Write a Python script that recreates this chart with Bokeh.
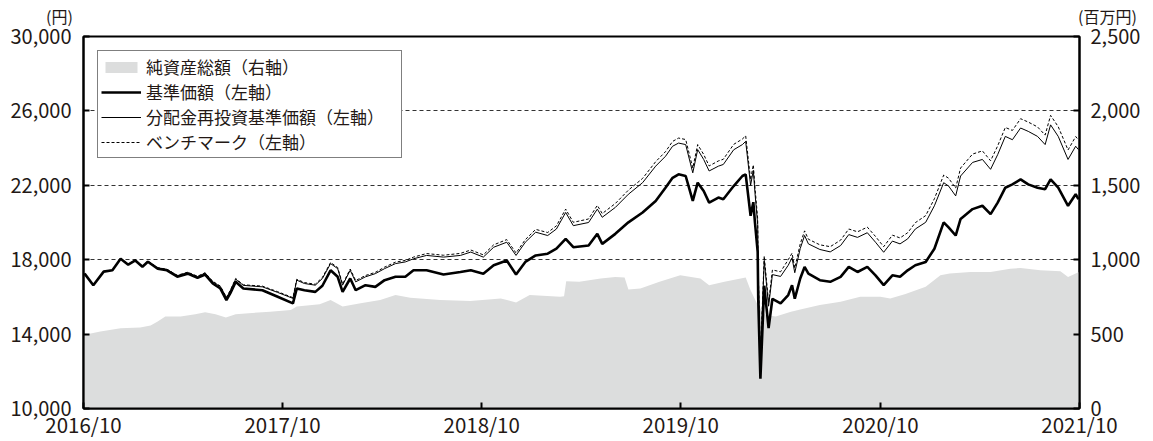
import pandas as pd
from bokeh.plotting import figure
from bokeh.models import (Range1d, LinearAxis, FixedTicker, NumeralTickFormatter,
                          DatetimeTickFormatter, Legend, LegendItem, ColumnDataSource)
from bokeh.embed import file_html
from bokeh.resources import INLINE

# ---------------- data ----------------
price_dates = [
    "2016-10-03", "2016-10-19", "2016-11-07", "2016-11-23", "2016-12-08", "2016-12-22",
    "2017-01-04", "2017-01-17", "2017-01-27", "2017-02-14", "2017-03-03", "2017-03-22",
    "2017-04-10", "2017-04-28", "2017-05-12", "2017-05-26", "2017-06-09", "2017-06-20",
    "2017-06-27", "2017-07-07", "2017-07-21", "2017-08-25", "2017-09-22", "2017-10-20",
    "2017-10-27", "2017-11-10", "2017-11-30", "2017-12-13", "2017-12-28", "2018-01-10",
    "2018-01-19", "2018-02-02", "2018-02-12", "2018-03-02", "2018-03-20", "2018-04-06",
    "2018-04-26", "2018-05-14", "2018-05-29", "2018-06-22", "2018-07-23", "2018-08-23",
    "2018-09-11", "2018-10-04", "2018-10-23", "2018-11-16", "2018-12-03", "2018-12-20",
    "2019-01-08", "2019-01-30", "2019-02-15", "2019-03-04", "2019-03-18", "2019-04-15",
    "2019-05-01", "2019-05-10", "2019-06-03", "2019-06-27", "2019-07-23", "2019-08-16",
    "2019-09-03", "2019-09-16", "2019-09-27", "2019-10-10", "2019-10-23", "2019-11-01",
    "2019-11-12", "2019-11-22", "2019-12-09", "2019-12-18", "2020-01-06", "2020-01-22",
    "2020-01-28", "2020-02-06", "2020-02-11", "2020-02-14", "2020-02-19", "2020-02-20",
    "2020-02-24", "2020-03-02", "2020-03-10", "2020-03-17", "2020-04-01", "2020-04-15",
    "2020-04-22", "2020-04-27", "2020-05-07", "2020-05-15", "2020-05-22", "2020-06-12",
    "2020-07-01", "2020-07-20", "2020-08-04", "2020-08-20", "2020-09-07", "2020-09-22",
    "2020-10-07", "2020-10-23", "2020-11-06", "2020-11-20", "2020-12-04", "2020-12-23",
    "2021-01-08", "2021-01-25", "2021-02-03", "2021-02-16", "2021-02-25", "2021-03-19",
    "2021-04-06", "2021-04-21", "2021-05-04", "2021-05-18", "2021-05-31", "2021-06-15",
    "2021-06-29", "2021-07-16", "2021-07-30", "2021-08-09", "2021-08-23", "2021-09-10",
    "2021-09-24", "2021-09-29",
]

# 基準価額 (left axis, yen)
nav = [
    17250, 16630, 17360, 17430, 18050, 17730, 17960, 17620, 17890, 17520, 17430, 17090,
    17250, 17020, 17200, 16720, 16450, 15830, 16190, 16810, 16450, 16360, 16010, 15650,
    16450, 16360, 16270, 16600, 17430, 17080, 16270, 16990, 16360, 16630, 16540, 16900,
    17080, 17080, 17430, 17430, 17200, 17340, 17430, 17250, 17700, 17960, 17200, 17880,
    18230, 18320, 18590, 19120, 18670, 18760, 19390, 18850, 19390, 20010, 20540, 21160,
    21870, 22400, 22590, 22500, 21160, 22140, 21690, 21070, 21340, 21250, 21960, 22500,
    22590, 20360, 21090, 20000, 18420, 15920, 11600, 16600, 14320, 15900, 15650, 16100,
    16630, 15900, 16990, 17610, 17250, 16900, 16810, 17080, 17610, 17340, 17610, 17160,
    16630, 17160, 17080, 17430, 17700, 17880, 18590, 20010, 19740, 19300, 20190, 20720,
    20900, 20450, 21070, 21870, 22050, 22320, 22050, 21870, 21790, 22320, 21870, 20900,
    21520, 21250,
]

# 分配金再投資基準価額 (left axis, yen)
nav_reinvested = [
    17250, 16630, 17360, 17440, 18060, 17740, 17970, 17640, 17910, 17550, 17470, 17140,
    17310, 17090, 17280, 16810, 16550, 15950, 16320, 16950, 16620, 16540, 16240, 15920,
    16900, 16720, 16630, 16990, 17790, 17520, 16630, 17430, 16810, 17080, 17250, 17520,
    17790, 17880, 18050, 18230, 18140, 18230, 18410, 18140, 18670, 18940, 18230, 18940,
    19480, 19300, 19650, 20540, 19830, 20000, 20720, 20280, 20810, 21520, 22140, 23030,
    23560, 24100, 24270, 24190, 22670, 23920, 23390, 22770, 23030, 23120, 23910, 24190,
    24360, 22000, 22800, 21600, 19900, 17200, 12550, 17950, 15500, 17200, 17100, 17700,
    18100, 17300, 18600, 19300, 18850, 18550, 18420, 18760, 19350, 19200, 19450, 18940,
    18400, 19000, 18850, 19120, 19650, 20010, 20900, 22140, 21960, 21430, 22500, 23230,
    23390, 22860, 23650, 24630, 24450, 25080, 24900, 24630, 24190, 25250, 24630, 23390,
    24100, 23920,
]

# ベンチマーク (left axis, yen)
benchmark = [
    17250, 16640, 17370, 17450, 18070, 17760, 17990, 17660, 17930, 17570, 17490, 17160,
    17330, 17110, 17300, 16840, 16580, 15980, 16350, 16990, 16650, 16580, 16280, 15960,
    16950, 16770, 16680, 17050, 17850, 17580, 16690, 17500, 16880, 17150, 17320, 17600,
    17870, 17960, 18140, 18330, 18240, 18340, 18520, 18260, 18800, 19080, 18360, 19080,
    19630, 19460, 19820, 20720, 20010, 20190, 20920, 20480, 21020, 21740, 22370, 23270,
    23810, 24360, 24540, 24460, 22930, 24190, 23660, 23040, 23310, 23400, 24200, 24490,
    24660, 22300, 23100, 21900, 20200, 17450, 12750, 18200, 15700, 17450, 17350, 18000,
    18350, 17550, 18850, 19550, 19100, 18800, 18700, 19050, 19650, 19500, 19750, 19250,
    18700, 19320, 19170, 19450, 19990, 20370, 21280, 22550, 22380, 21850, 22930, 23680,
    23850, 23320, 24120, 25110, 24950, 25580, 25400, 25140, 24700, 25760, 25150, 23900,
    24620, 24450,
]

asset_dates = [
    "2016-10-03", "2016-11-01", "2016-12-08", "2017-01-13", "2017-02-01", "2017-02-14",
    "2017-02-28", "2017-03-28", "2017-04-24", "2017-05-12", "2017-05-31", "2017-06-19",
    "2017-07-07", "2017-07-31", "2017-09-08", "2017-10-16", "2017-10-27", "2017-12-08",
    "2017-12-28", "2018-01-19", "2018-02-21", "2018-03-29", "2018-04-26", "2018-05-23",
    "2018-07-17", "2018-09-10", "2018-11-05", "2018-12-03", "2018-12-28", "2019-02-22",
    "2019-03-01", "2019-03-05", "2019-03-29", "2019-05-07", "2019-06-03", "2019-06-20",
    "2019-06-27", "2019-07-19", "2019-08-23", "2019-09-30", "2019-11-06", "2019-11-22",
    "2019-12-20", "2020-01-28", "2020-02-06", "2020-02-19", "2020-03-04", "2020-03-23",
    "2020-04-20", "2020-05-07", "2020-06-12", "2020-07-20", "2020-08-25", "2020-10-01",
    "2020-10-19", "2020-11-16", "2020-12-23", "2021-01-19", "2021-02-05", "2021-03-15",
    "2021-04-21", "2021-05-27", "2021-06-15", "2021-07-21", "2021-08-27", "2021-09-10",
    "2021-09-30",
]

# 純資産総額 (right axis, million yen)
net_assets = [
    495, 518, 540, 545, 558, 585, 618, 618, 633, 647, 633, 611,
    633, 640, 651, 662, 685, 700, 729, 685, 707, 729, 762, 745,
    729, 722, 740, 713, 762, 751, 755, 855, 851, 873, 884, 880,
    800, 807, 851, 895, 873, 829, 851, 880, 795, 695, 629, 618,
    651, 665, 695, 718, 751, 751, 740, 770, 818, 895, 907, 918,
    918, 940, 944, 929, 922, 884, 918,
]

left_ticks = [10000, 14000, 18000, 22000, 26000, 30000]
grid_levels = [14000, 18000, 22000, 26000]
right_ticks = [0, 500, 1000, 1500, 2000, 2500]
x_tick_dates = ["2016-10-01", "2017-10-01", "2018-10-01", "2019-10-01", "2020-10-01", "2021-10-01"]

labels = ["純資産総額（右軸）", "基準価額（左軸）", "分配金再投資基準価額（左軸）", "ベンチマーク（左軸）"]
left_unit = "(円)"
right_unit = "(百万円)"

# ---------------- figure ----------------
FONT = "Noto Sans CJK JP"
TXT = "#231815"

price_src = ColumnDataSource(dict(date=pd.to_datetime(price_dates), nav=nav,
                                  reinv=nav_reinvested, bench=benchmark))
asset_src = ColumnDataSource(dict(date=pd.to_datetime(asset_dates), assets=net_assets))

p = figure(width=1152, height=441, x_axis_type="datetime",
           x_range=Range1d(pd.Timestamp(x_tick_dates[0]), pd.Timestamp(x_tick_dates[-1])),
           y_range=Range1d(left_ticks[0], left_ticks[-1]),
           output_backend="svg", toolbar_location=None,
           min_border_left=83, min_border_right=73, min_border_top=36, min_border_bottom=30)
p.extra_y_ranges = {"assets": Range1d(right_ticks[0], right_ticks[-1])}
p.extra_x_ranges = {"units": Range1d(0, 1)}

p.outline_line_color = "black"
p.outline_line_width = 2
p.background_fill_color = "white"
p.border_fill_color = "white"

# grid
p.xgrid.visible = False
p.ygrid.ticker = FixedTicker(ticks=grid_levels)
p.ygrid.grid_line_color = "#333333"
p.ygrid.grid_line_dash = "4 3"
p.ygrid.grid_line_width = 1

# glyphs
r_area = p.varea(x="date", y1=0, y2="assets", source=asset_src, y_range_name="assets",
                 fill_color="#dcdddd")
r_bench = p.line("date", "bench", source=price_src, line_color="black", line_width=1,
                 line_dash="3 2")
r_reinv = p.line("date", "reinv", source=price_src, line_color="black", line_width=1)
r_nav = p.line("date", "nav", source=price_src, line_color="black", line_width=2.6)

# axes
right_axis = LinearAxis(y_range_name="assets")
p.add_layout(right_axis, "right")

x_ms = [pd.Timestamp(d).value / 1e6 for d in x_tick_dates]
p.xaxis.ticker = FixedTicker(ticks=x_ms)
fmt_keys = ["microseconds", "milliseconds", "seconds", "minsec", "minutes", "hourmin",
            "hours", "days", "months", "years"]
p.xaxis.formatter = DatetimeTickFormatter(**{k: "%Y/%m" for k in fmt_keys})
p.yaxis[0].ticker = FixedTicker(ticks=left_ticks)
p.yaxis[0].formatter = NumeralTickFormatter(format="0,0")
right_axis.ticker = FixedTicker(ticks=right_ticks)
right_axis.formatter = NumeralTickFormatter(format="0,0")

for ax in [p.xaxis[0], p.yaxis[0], right_axis]:
    ax.axis_line_width = 2
    ax.axis_line_color = "black"
    ax.major_tick_line_width = 2
    ax.major_tick_line_color = "black"
    ax.major_tick_in = 6
    ax.major_tick_out = 0
    ax.minor_tick_in = 0
    ax.minor_tick_out = 0
    ax.major_label_text_font = FONT
    ax.major_label_text_font_size = "20px"
    ax.major_label_text_color = TXT
p.yaxis[0].major_label_standoff = 12
right_axis.major_label_standoff = 11
p.xaxis.major_label_standoff = 0
p.xaxis.major_label_text_font_size = "20.5px"

# unit labels: a label-only axis above the frame, one label at each end
pad_left = "\u3000\u3000\u3000"
pad_right = "\u3000\u3000\u3000\u2002"
unit_axis = LinearAxis(x_range_name="units", ticker=FixedTicker(ticks=[0, 1]),
                       major_label_overrides={0: left_unit + pad_left, 1: pad_right + right_unit},
                       axis_line_color=None, major_tick_line_color=None,
                       minor_tick_line_color=None, major_tick_in=0, major_tick_out=0,
                       minor_tick_in=0, minor_tick_out=0, major_label_standoff=9,
                       major_label_text_font=FONT, major_label_text_font_size="16px",
                       major_label_text_color=TXT)
p.add_layout(unit_axis, "above")

# legend
legend = Legend(items=[
    LegendItem(label=labels[0], renderers=[r_area]),
    LegendItem(label=labels[1], renderers=[r_nav]),
    LegendItem(label=labels[2], renderers=[r_reinv]),
    LegendItem(label=labels[3], renderers=[r_bench]),
], location="top_left")
legend.margin = 14
legend.padding = 3
legend.spacing = 0
legend.label_height = 20
legend.label_width = 252
legend.glyph_height = 14
legend.glyph_width = 40
legend.label_standoff = 5
legend.label_text_font = FONT
legend.label_text_font_size = "17px"
legend.label_text_color = TXT
legend.border_line_color = "black"
legend.border_line_width = 1
legend.background_fill_color = "white"
legend.background_fill_alpha = 1
p.add_layout(legend, "center")

open("out.html", "w").write(file_html(p, INLINE))
